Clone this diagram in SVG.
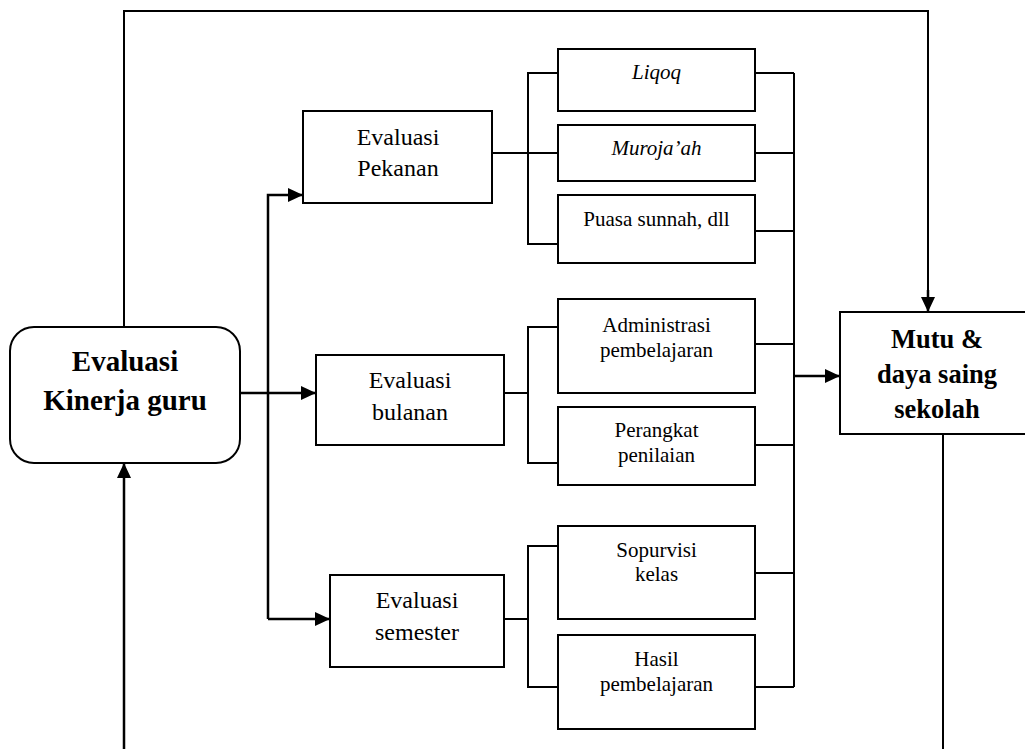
<svg xmlns="http://www.w3.org/2000/svg" width="1025" height="749" viewBox="0 0 1025 749" font-family="Liberation Serif, serif">
  <style>
    .box { fill: #ffffff; stroke: #000000; stroke-width: 2; }
    .ln { fill: none; stroke: #000000; stroke-width: 2; }
    .arr { fill: none; stroke: #000000; stroke-width: 2.5; }
    text { fill: #000000; text-anchor: middle; }
    .big { font-size: 29px; font-weight: bold; }
    .mid { font-size: 26.5px; font-weight: bold; }
    .ev { font-size: 24px; }
    .sub { font-size: 21px; }
    .it { font-style: italic; }
  </style>
  <defs>
    <marker id="head" markerUnits="userSpaceOnUse" markerWidth="16" markerHeight="14" refX="15" refY="7" orient="auto">
      <path d="M0,0 L15,7 L0,14 z" fill="#000000"/>
    </marker>
  </defs>

  <g id="connectors">
    <!-- feedback loop over the top -->
    <path class="ln" d="M124,327 V11 H928 V297"/>
    <path class="arr" d="M928,290 V312" marker-end="url(#head)"/>
    <!-- return from the bottom -->
    <path class="arr" d="M124,749 V463" marker-end="url(#head)"/>
    <!-- main fan-out -->
    <path class="arr" d="M240,393 H316" marker-end="url(#head)"/>
    <path class="arr" d="M268,619 V195 H303" marker-end="url(#head)"/>
    <path class="arr" d="M268,619 H330" marker-end="url(#head)"/>
    <!-- weekly bracket -->
    <path class="ln" d="M492,153 H558"/>
    <path class="ln" d="M558,73 H528 V244 H558"/>
    <!-- monthly bracket -->
    <path class="ln" d="M504,393 H528"/>
    <path class="ln" d="M558,327 H528 V463 H558"/>
    <!-- semester bracket -->
    <path class="ln" d="M504,619 H528"/>
    <path class="ln" d="M558,546 H528 V687 H558"/>
    <!-- collecting bus on the right -->
    <path class="ln" d="M755,73 H794 M755,153 H794 M755,231 H794 M755,344 H794 M755,445 H794 M755,573 H794 M755,687 H794"/>
    <path class="ln" d="M794,73 V687"/>
    <path class="arr" d="M794,376 H840" marker-end="url(#head)"/>
    <!-- outgoing line below the result box -->
    <path class="ln" d="M943,434 V749"/>
  </g>

  <g id="evaluasi-kinerja">
    <rect class="box" x="10" y="327" width="230" height="136" rx="24" ry="24"/>
    <text class="big" x="125" y="371">Evaluasi</text>
    <text class="big" x="125" y="410">Kinerja guru</text>
  </g>

  <g id="evaluasi-pekanan">
    <rect class="box" x="303" y="111" width="189" height="92"/>
    <text class="ev" x="398" y="145">Evaluasi</text>
    <text class="ev" x="398" y="176">Pekanan</text>
  </g>

  <g id="evaluasi-bulanan">
    <rect class="box" x="316" y="355" width="188" height="90"/>
    <text class="ev" x="410" y="388">Evaluasi</text>
    <text class="ev" x="410" y="420">bulanan</text>
  </g>

  <g id="evaluasi-semester">
    <rect class="box" x="330" y="575" width="174" height="92"/>
    <text class="ev" x="417" y="608">Evaluasi</text>
    <text class="ev" x="417" y="640">semester</text>
  </g>

  <g id="liqoq">
    <rect class="box" x="558" y="49" width="197" height="62"/>
    <text class="sub it" x="656.5" y="79">Liqoq</text>
  </g>

  <g id="murojaah">
    <rect class="box" x="558" y="125" width="197" height="56"/>
    <text class="sub it" x="656.5" y="155">Muroja’ah</text>
  </g>

  <g id="puasa">
    <rect class="box" x="558" y="195" width="197" height="68"/>
    <text class="sub" x="656.5" y="226">Puasa sunnah, dll</text>
  </g>

  <g id="administrasi">
    <rect class="box" x="558" y="299" width="197" height="94"/>
    <text class="sub" x="656.5" y="332">Administrasi</text>
    <text class="sub" x="656.5" y="357">pembelajaran</text>
  </g>

  <g id="perangkat">
    <rect class="box" x="558" y="407" width="197" height="78"/>
    <text class="sub" x="656.5" y="437">Perangkat</text>
    <text class="sub" x="656.5" y="462">penilaian</text>
  </g>

  <g id="supervisi">
    <rect class="box" x="558" y="526" width="197" height="93"/>
    <text class="sub" x="656.5" y="557">Sopurvisi</text>
    <text class="sub" x="656.5" y="581">kelas</text>
  </g>

  <g id="hasil">
    <rect class="box" x="558" y="635" width="197" height="94"/>
    <text class="sub" x="656.5" y="666">Hasil</text>
    <text class="sub" x="656.5" y="691">pembelajaran</text>
  </g>

  <g id="mutu">
    <rect class="box" x="840" y="312" width="195" height="122"/>
    <text class="mid" x="937" y="348">Mutu &amp;</text>
    <text class="mid" x="937" y="383">daya saing</text>
    <text class="mid" x="937" y="418">sekolah</text>
  </g>
</svg>
